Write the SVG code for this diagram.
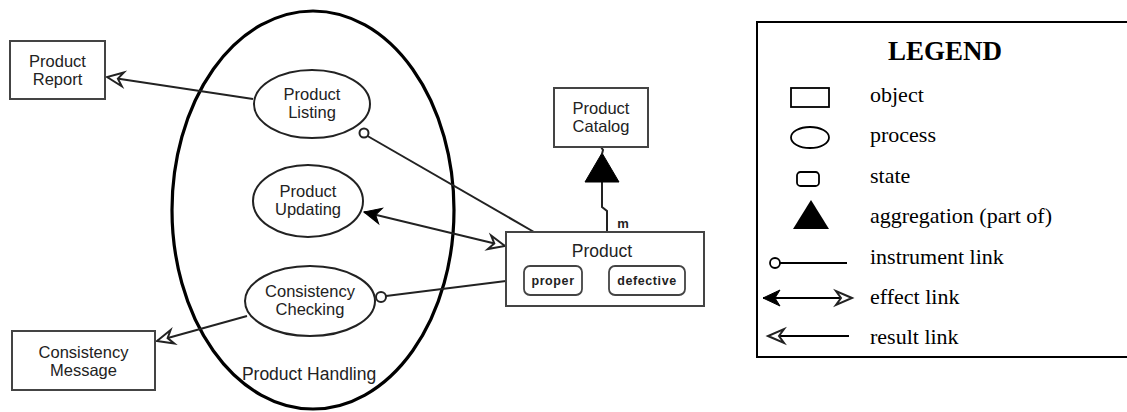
<svg xmlns="http://www.w3.org/2000/svg" width="1127" height="412" viewBox="0 0 1127 412">
<style>
.obj{fill:#fff;stroke:#444;stroke-width:2}
.proc{fill:#fff;stroke:#222;stroke-width:2}
.st{fill:#fff;stroke:#444;stroke-width:1.8}
.lnk{fill:none;stroke:#222;stroke-width:2}
.lbl{font-family:"Liberation Sans",Arial,sans-serif;font-size:16.5px;fill:#222;text-anchor:middle}
.sl{font-family:"Liberation Sans",Arial,sans-serif;font-size:12.5px;font-weight:bold;fill:#222;text-anchor:middle;letter-spacing:0.6px}
.lg{font-family:"Liberation Serif","Times New Roman",serif;font-size:22px;fill:#000}
.lk{fill:none;stroke:#000;stroke-width:1.8}
marker{overflow:visible}
</style>
<defs>
<marker id="open" markerUnits="userSpaceOnUse" viewBox="-20 -10 22 20" refX="0" refY="0" markerWidth="22" markerHeight="20" orient="auto-start-reverse">
<path d="M0,0 L-16,-7 L-11,0 L-16,7 Z" fill="#fff" stroke="#222" stroke-width="2" stroke-linejoin="miter"/>
</marker>
<marker id="fill" markerUnits="userSpaceOnUse" viewBox="-20 -10 22 20" refX="0" refY="0" markerWidth="22" markerHeight="20" orient="auto-start-reverse">
<path d="M0,0 L-17,-8 L-12,0 L-17,8 Z" fill="#000" stroke="#000" stroke-width="1"/>
</marker>
</defs>
<rect width="1127" height="412" fill="#fff"/>

<g id="product-handling">
<ellipse cx="313" cy="210" rx="141" ry="199" fill="none" stroke="#000" stroke-width="3.2"/>
<text class="lbl" x="309" y="380" style="font-size:17.5px">Product Handling</text>
</g>

<g id="connectors">
<line class="lnk" x1="253" y1="99" x2="107" y2="77" marker-end="url(#open)"/>
<circle cx="364" cy="133" r="4.5" fill="#fff" stroke="#222" stroke-width="2"/>
<line class="lnk" x1="367.5" y1="136" x2="534" y2="232"/>
<line class="lnk" x1="364" y1="212" x2="505" y2="246" marker-start="url(#fill)" marker-end="url(#open)"/>
<circle cx="381" cy="297" r="5" fill="#fff" stroke="#222" stroke-width="2"/>
<line class="lnk" x1="386" y1="296" x2="506" y2="281"/>
<line class="lnk" x1="247" y1="316" x2="157" y2="341" marker-end="url(#open)"/>
<polyline class="lnk" points="602,182 602,207 607,211 607,232"/>
<polygon points="602,153 585,182 619,182" fill="#000" stroke="#000" stroke-width="1"/>
<polyline class="lnk" points="601,147 603,150 602,154" stroke-width="1.5"/>
<text x="623" y="228" font-family="'Liberation Sans',Arial,sans-serif" font-size="13" font-weight="bold" fill="#222" text-anchor="middle">m</text>
</g>

<g id="product-report">
<rect class="obj" x="10" y="41" width="95" height="58"/>
<text class="lbl" x="57.5" y="67">Product<tspan x="57.5" dy="18">Report</tspan></text>
</g>

<g id="product-listing">
<ellipse class="proc" cx="312" cy="104" rx="58" ry="34"/>
<text class="lbl" x="312" y="100">Product<tspan x="312" dy="18">Listing</tspan></text>
</g>

<g id="product-updating">
<ellipse class="proc" cx="308" cy="201" rx="55" ry="36"/>
<text class="lbl" x="308" y="197">Product<tspan x="308" dy="18">Updating</tspan></text>
</g>

<g id="consistency-checking">
<ellipse class="proc" cx="310" cy="301" rx="65" ry="35"/>
<text class="lbl" x="310" y="297">Consistency<tspan x="310" dy="18">Checking</tspan></text>
</g>

<g id="consistency-message">
<rect class="obj" x="12" y="331" width="143" height="59"/>
<text class="lbl" x="83.5" y="358">Consistency<tspan x="83.5" dy="18">Message</tspan></text>
</g>

<g id="product-catalog">
<rect class="obj" x="554" y="88" width="94" height="59"/>
<text class="lbl" x="601" y="114">Product<tspan x="601" dy="18">Catalog</tspan></text>
</g>

<g id="product">
<rect class="obj" x="506" y="232" width="198" height="74"/>
<text class="lbl" x="602" y="257" style="font-size:17.5px">Product</text>
<g id="state-proper">
<rect class="st" x="524" y="266" width="58" height="29" rx="6"/>
<text class="sl" x="553" y="285">proper</text>
</g>
<g id="state-defective">
<rect class="st" x="609" y="266" width="76" height="29" rx="6"/>
<text class="sl" x="647" y="285">defective</text>
</g>
</g>

<g id="legend">
<rect x="757" y="22" width="380" height="335" fill="#fff" stroke="#000" stroke-width="2"/>
<text x="945" y="60" font-family="'Liberation Serif','Times New Roman',serif" font-size="27" font-weight="bold" text-anchor="middle">LEGEND</text>
<rect x="791" y="88" width="38" height="19" fill="#fff" stroke="#000" stroke-width="1.8"/>
<text class="lg" x="870" y="102">object</text>
<ellipse cx="810" cy="137.5" rx="19" ry="10.5" fill="#fff" stroke="#000" stroke-width="1.8"/>
<text class="lg" x="870" y="142">process</text>
<rect x="797" y="172" width="22" height="14" rx="3.5" fill="#fff" stroke="#000" stroke-width="1.8"/>
<text class="lg" x="870" y="183">state</text>
<polygon points="811,200 793,229 829,229" fill="#000"/>
<text class="lg" x="870" y="223">aggregation (part of)</text>
<circle cx="775" cy="263" r="5" fill="#fff" stroke="#000" stroke-width="1.8"/>
<line class="lk" x1="780" y1="263" x2="847" y2="263"/>
<text class="lg" x="870" y="264">instrument link</text>
<line class="lk" x1="763" y1="298" x2="852" y2="298" marker-start="url(#fill)" marker-end="url(#open)"/>
<text class="lg" x="870" y="304">effect link</text>
<line class="lk" x1="768" y1="336" x2="849" y2="336" marker-start="url(#open)"/>
<text class="lg" x="870" y="344">result link</text>
</g>
</svg>
